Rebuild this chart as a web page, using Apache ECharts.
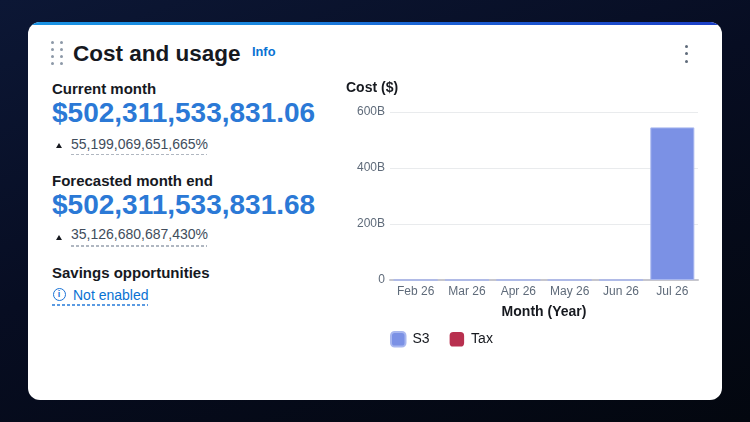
<!DOCTYPE html>
<html>
<head>
<meta charset="utf-8">
<script src="https://cdn.jsdelivr.net/npm/echarts@6/dist/echarts.min.js"></script>
<style>
  html, body { margin:0; padding:0; width:750px; height:422px; overflow:hidden; }
  body { background: linear-gradient(160deg, #0c1735 0%, #070d22 45%, #03070f 100%); font-family: "Liberation Sans", Arial, sans-serif; position:relative; }
  .card { position:absolute; left:28px; top:22px; width:694px; height:378px; background:#fff; border-radius:12px; overflow:hidden; }
  .topbar { position:absolute; left:0; top:0; width:100%; height:3px; background:linear-gradient(90deg, #1a93e4 0%, #1a86de 35%, #1b5fd3 60%, #1c3fc6 100%); }
  .t { position:absolute; white-space:nowrap; line-height:1; }
  .dot { position:absolute; width:3.4px; height:3.4px; border-radius:50%; background:#8d99a8; }
  .mdot { position:absolute; width:3.4px; height:3.4px; border-radius:50%; background:#5f6b7a; }
  .lbl { font-size:15px; font-weight:bold; color:#16191f; }
  .big { font-size:28px; font-weight:bold; color:#2b79d6; }
  .pct { font-size:14px; color:#414d5c; }
  .tri { position:absolute; width:0; height:0; border-left:3px solid transparent; border-right:3px solid transparent; border-bottom:5px solid #16191f; }
  .dash { position:absolute; height:1.6px; background-image:repeating-linear-gradient(90deg, #b0b7c1 0 3px, transparent 3px 5px); }
  .dashb { position:absolute; height:1.6px; background-image:repeating-linear-gradient(90deg, #5b9be2 0 3px, transparent 3px 5px); }
  #chart { position:absolute; left:0; top:0; width:750px; height:422px; }
</style>
</head>
<body>
<div class="card"><div class="topbar"></div></div>

<!-- drag handle -->
<div class="dot" style="left:51px;top:41px"></div><div class="dot" style="left:60px;top:41px"></div>
<div class="dot" style="left:51px;top:48px"></div><div class="dot" style="left:60px;top:48px"></div>
<div class="dot" style="left:51px;top:55px"></div><div class="dot" style="left:60px;top:55px"></div>
<div class="dot" style="left:51px;top:62px"></div><div class="dot" style="left:60px;top:62px"></div>

<div class="t" style="left:73px;top:42.5px;font-size:22.5px;font-weight:bold;color:#16191f">Cost and usage</div>
<div class="t" style="left:252px;top:46.3px;font-size:12.8px;font-weight:bold;color:#0972d3">Info</div>

<!-- menu -->
<div class="mdot" style="left:684.5px;top:44.5px"></div>
<div class="mdot" style="left:684.5px;top:52px"></div>
<div class="mdot" style="left:684.5px;top:59.5px"></div>

<div class="t lbl" style="left:52px;top:80.6px">Current month</div>
<div class="t big" style="left:52px;top:98.8px">$502,311,533,831.06</div>
<div class="tri" style="left:55.5px;top:143px"></div>
<div class="t pct" style="left:71px;top:136.5px">55,199,069,651,665%</div>
<div class="dash" style="left:71px;top:153.8px;width:136px"></div>

<div class="t lbl" style="left:52px;top:172.8px">Forecasted month end</div>
<div class="t big" style="left:52px;top:191.3px">$502,311,533,831.68</div>
<div class="tri" style="left:55.5px;top:234.5px"></div>
<div class="t pct" style="left:71px;top:227.4px">35,126,680,687,430%</div>
<div class="dash" style="left:71px;top:245px;width:136px"></div>

<div class="t lbl" style="left:52px;top:264.6px">Savings opportunities</div>
<div style="position:absolute;left:52.5px;top:288px;width:11px;height:11px;border:1.7px solid #1a73d6;border-radius:50%;color:#1a73d6;font-size:9px;font-weight:bold;line-height:11px;text-align:center;font-family:'Liberation Sans',Arial,sans-serif">i</div>
<div class="t" style="left:73px;top:287.5px;font-size:14px;color:#0972d3">Not enabled</div>
<div class="dashb" style="left:52px;top:304.3px;width:96px"></div>

<div id="chart"></div>
<script>
var months = ['Feb 26', 'Mar 26', 'Apr 26', 'May 26', 'Jun 26', 'Jul 26'];
var s3Cost = [0.85, 0.87, 0.89, 0.9, 0.91, 545e9];
var taxCost = [0, 0, 0, 0, 0, 0];
var yTicks = [0, 200e9, 400e9, 600e9];

var chart = echarts.init(document.getElementById('chart'), null, {renderer: 'canvas'});
var font = '"Liberation Sans", Arial, sans-serif';
chart.setOption({
  animation: false,
  backgroundColor: 'transparent',
  textStyle: { fontFamily: font },
  title: {
    text: 'Cost ($)', left: 346, top: 81, padding: 0,
    textStyle: { fontSize: 14, fontWeight: 'bold', color: '#16191f', fontFamily: font }
  },
  grid: { left: 390, right: 52, top: 112, bottom: 142, containLabel: false },
  legend: {
    left: 390, top: 331, padding: 0,
    itemWidth: 14.5, itemHeight: 14.5, itemGap: 20,
    icon: 'roundRect',
    textStyle: { fontSize: 14, color: '#16191f', fontFamily: font, padding: [0, 0, 0, 2] },
    data: ['S3', 'Tax']
  },
  xAxis: {
    type: 'category', data: months,
    name: 'Month (Year)', nameLocation: 'middle', nameGap: 25,
    nameTextStyle: { fontSize: 14, fontWeight: 'bold', color: '#16191f', fontFamily: font },
    axisLine: { lineStyle: { color: '#c6c6cd', width: 2 } },
    axisTick: { show: false },
    axisLabel: { color: '#5f6b7a', fontSize: 12, margin: 6, fontFamily: font }
  },
  yAxis: {
    type: 'value', min: yTicks[0], max: yTicks[yTicks.length - 1], interval: yTicks[1] - yTicks[0],
    axisLine: { show: false }, axisTick: { show: false },
    splitLine: { lineStyle: { color: '#e9ebed', width: 1 } },
    axisLabel: {
      color: '#5f6b7a', fontSize: 12, margin: 5, fontFamily: font,
      formatter: function (v) { return v === 0 ? '0' : (v / 1e9) + 'B'; }
    }
  },
  series: [
    { name: 'S3', type: 'bar', stack: 'cost', data: s3Cost, barWidth: 44,
      itemStyle: { color: '#7b91e5', borderColor: '#a8b7ef', borderWidth: 1 } },
    { name: 'Tax', type: 'bar', stack: 'cost', data: taxCost, barWidth: 44,
      itemStyle: { color: '#b8304f' } }
  ]
});
</script>
</body>
</html>
